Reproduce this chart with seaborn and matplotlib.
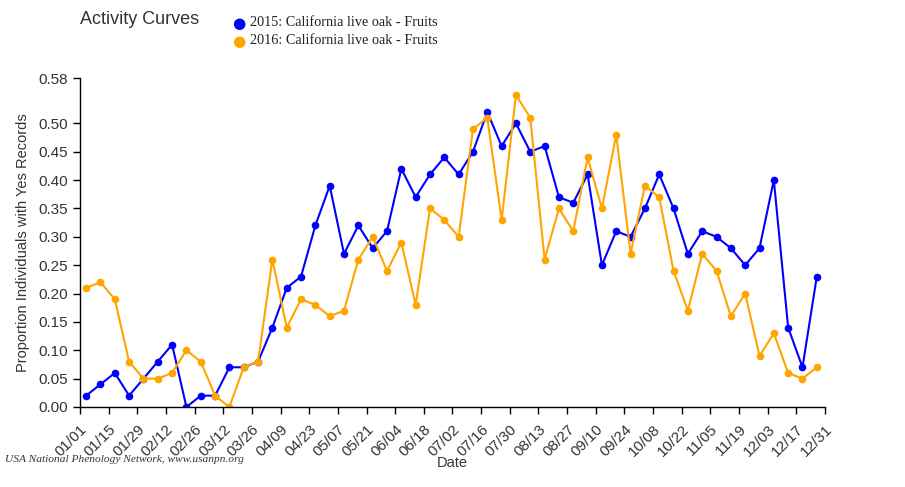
import pandas as pd
import seaborn as sns
import matplotlib.pyplot as plt

# weekly observation dates (shown on a single calendar year)
dates = pd.date_range('2015-01-04', periods=52, freq='7D')

y2015 = [0.02, 0.04, 0.06, 0.02, 0.05, 0.08, 0.11, 0.00, 0.02, 0.02, 0.07, 0.07, 0.08,
         0.14, 0.21, 0.23, 0.32, 0.39, 0.27, 0.32, 0.28, 0.31, 0.42, 0.37, 0.41, 0.44,
         0.41, 0.45, 0.52, 0.46, 0.50, 0.45, 0.46, 0.37, 0.36, 0.41, 0.25, 0.31, 0.30,
         0.35, 0.41, 0.35, 0.27, 0.31, 0.30, 0.28, 0.25, 0.28, 0.40, 0.14, 0.07, 0.23]
y2016 = [0.21, 0.22, 0.19, 0.08, 0.05, 0.05, 0.06, 0.10, 0.08, 0.02, 0.00, 0.07, 0.08,
         0.26, 0.14, 0.19, 0.18, 0.16, 0.17, 0.26, 0.30, 0.24, 0.29, 0.18, 0.35, 0.33,
         0.30, 0.49, 0.51, 0.33, 0.55, 0.51, 0.26, 0.35, 0.31, 0.44, 0.35, 0.48, 0.27,
         0.39, 0.37, 0.24, 0.17, 0.27, 0.24, 0.16, 0.20, 0.09, 0.13, 0.06, 0.05, 0.07]

labels = ['2015: California live oak - Fruits', '2016: California live oak - Fruits']
colors = ['#0000ff', '#ffa500']
y_ticks = [0.00, 0.05, 0.10, 0.15, 0.20, 0.25, 0.30, 0.35, 0.40, 0.45, 0.50, 0.58]

df = pd.concat([
    pd.DataFrame({'date': dates, 'value': y2015, 'series': labels[0]}),
    pd.DataFrame({'date': dates, 'value': y2016, 'series': labels[1]}),
])

sns.set_style('ticks')
plt.rcParams['font.family'] = ['Liberation Sans', 'DejaVu Sans']

fig = plt.figure(figsize=(9.05, 4.87), dpi=100)
ax = fig.add_axes([80 / 905, 1 - 407 / 487, 745 / 905, 329 / 487])

sns.lineplot(data=df, x='date', y='value', hue='series', palette=colors,
             marker='o', markersize=5.5, markeredgewidth=0, linewidth=1.5,
             legend=False, ax=ax)

start, end = pd.Timestamp('2015-01-01'), pd.Timestamp('2015-12-31')
ax.set_xlim(start, end)
xt = list(pd.date_range(start, end, freq='14D'))
ax.set_xticks(xt)
ax.set_xticklabels([d.strftime('%m/%d') for d in xt], rotation=45, ha='right',
                   rotation_mode='anchor', fontsize=11, color='#333333')
ax.set_ylim(0, 0.58)
ax.set_yticks(y_ticks)
ax.set_yticklabels([f'{v:.2f}' for v in y_ticks], fontsize=11, color='#333333')
ax.tick_params(length=5, width=1, color='black')
ax.tick_params(axis='x', pad=6)
for s in ['top', 'right']:
    ax.spines[s].set_visible(False)
for s in ['left', 'bottom']:
    ax.spines[s].set_color('black')
    ax.spines[s].set_linewidth(1)

ax.set_xlabel('Date', fontsize=10.5, color='#333333', labelpad=-2)
ax.set_ylabel('Proportion Individuals with Yes Records', fontsize=10.5, color='#333333',
              labelpad=6)

fig.text(80 / 905, 1 - 20 / 487, 'Activity Curves', fontsize=13, color='#333333', va='center')
for i, (lab, c) in enumerate(zip(labels, colors)):
    yy = 1 - (23 + i * 18) / 487
    fig.text(239 / 905, yy, '\u25cf', color=c, fontsize=11, va='center', ha='center',
             family=['DejaVu Sans'])
    fig.text(250 / 905, yy, lab, fontsize=10.3, color='#222222', va='center',
             family=['Liberation Serif'])
fig.text(5 / 905, 1 - 460 / 487, 'USA National Phenology Network, www.usanpn.org',
         fontsize=8.2, style='italic', color='#333333', va='center',
         family=['Liberation Serif'])

fig.savefig('out.png', dpi=100)
